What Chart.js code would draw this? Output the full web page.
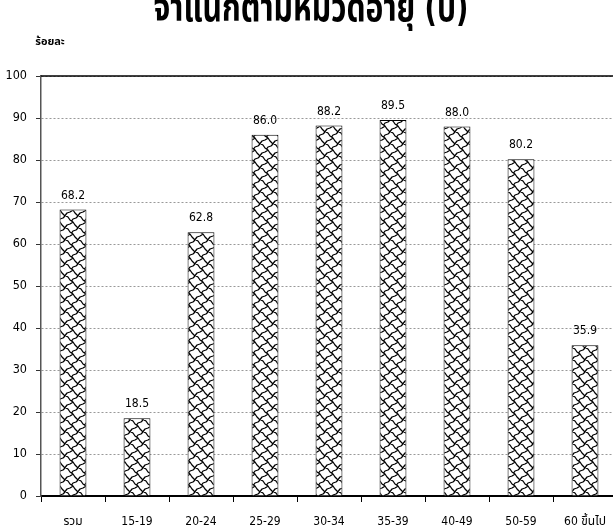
<!DOCTYPE html>
<html><head><meta charset="utf-8">
<script src="https://cdn.jsdelivr.net/npm/chart.js@4"></script>
<style>
html,body{margin:0;padding:0;background:#fff;overflow:hidden;width:613px;height:532px;}
#wrap{position:absolute;left:0;top:0;width:620px;height:532px;}
</style></head>
<body><div id="wrap"><canvas id="c" width="620" height="532"></canvas></div>
<script>
const categories = ["รวม","15-19","20-24","25-29","30-34","35-39","40-49","50-59","60 ขึ้นไป"];
const values = [68.2,18.5,62.8,86.0,88.2,89.5,88.0,80.2,35.9];
const yTicks = [0,10,20,30,40,50,60,70,80,90,100];
const titleText = "จำแนกตามหมวดอายุ (ปี)";
const yAxisTitle = "ร้อยละ";
const FONT = "'DejaVu Sans Condensed','Noto Sans Thai',sans-serif";

function makePattern(){
  const t = document.createElement('canvas');
  t.width = 13; t.height = 12;
  const g = t.getContext('2d');
  g.fillStyle = '#fff'; g.fillRect(0,0,13,12);
  g.strokeStyle = '#000'; g.lineWidth = 1.3; g.lineJoin = 'round';
  g.beginPath();
  g.moveTo(-1,-1); g.lineTo(3,1); g.lineTo(5,4); g.lineTo(8,6); g.lineTo(10,9); g.lineTo(14,13);
  g.moveTo(14,-1); g.lineTo(11,2); g.lineTo(8,3); g.lineTo(6.5,5.2);
  g.moveTo(7.5,6.5); g.lineTo(5,8); g.lineTo(2,9); g.lineTo(-1,13);
  g.stroke();
  return g.createPattern(t,'repeat');
}

const overlay = {
  id:'overlay',
  afterDraw(chart){
    const ctx = chart.ctx, y = chart.scales.y, a = chart.chartArea;
    ctx.save();
    ctx.strokeStyle = '#000'; ctx.lineWidth = 1.5;
    ctx.beginPath(); ctx.moveTo(a.left, y.getPixelForValue(100)); ctx.lineTo(a.right, y.getPixelForValue(100)); ctx.stroke();
    ctx.fillStyle = '#000'; ctx.font = "12px " + FONT; ctx.textAlign = 'center'; ctx.textBaseline = 'middle';
    chart.getDatasetMeta(0).data.forEach((b,i)=>{
      ctx.fillText(values[i].toFixed(1), b.x, b.y - 14);
    });
    ctx.font = "bold 11px " + FONT; ctx.textBaseline = 'middle';
    ctx.fillText(yAxisTitle, 50, 42);
    ctx.save();
    ctx.translate(311, 21);
    ctx.scale(0.97, 1.25);
    ctx.font = "bold 31px " + FONT; ctx.textBaseline = 'alphabetic';
    ctx.fillText(titleText, 0, 0);
    ctx.restore();
    ctx.restore();
  }
};

new Chart(document.getElementById('c'), {
  type:'bar',
  data:{labels:categories, datasets:[{data:values, backgroundColor:makePattern(), borderColor:'#000', borderWidth:1, categoryPercentage:1, barPercentage:0.42}]},
  options:{
    responsive:false, animation:false, maintainAspectRatio:false,
    layout:{padding:{top:76,right:3,left:0,bottom:0}},
    plugins:{legend:{display:false}, tooltip:{enabled:false}},
    scales:{
      x:{
        grid:{display:true, drawOnChartArea:false, drawTicks:true, tickLength:6, color:'#000', offset:true},
        border:{display:true, color:'#000', width:2},
        ticks:{color:'#000', font:{family:FONT, size:12}, padding:13, maxRotation:0, autoSkip:false},
        afterFit(s){ s.height = 36; }
      },
      y:{
        min:0, max:100,
        afterBuildTicks(s){ s.ticks = yTicks.map(v=>({value:v})); },
        grid:{color:'#999', lineWidth:1, tickLength:5, tickColor:'#333', tickBorderDash:[]},
        border:{display:true, color:'#555', width:1.5, dash:[2,2]},
        ticks:{color:'#000', font:{family:FONT, size:12.5}, padding:9},
        afterFit(s){ s.width = 41; }
      }
    }
  },
  plugins:[overlay]
});
</script></body></html>
